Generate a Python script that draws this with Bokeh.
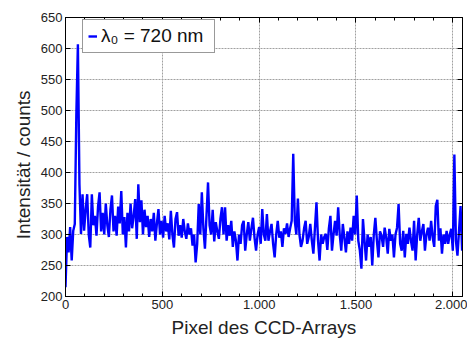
from bokeh.plotting import figure
from bokeh.models import Range1d, LinearAxis, Legend, LegendItem, FixedTicker
from bokeh.embed import file_html
from bokeh.resources import INLINE

# CCD pixel index (every 8th pixel) and measured intensity
pixels = list(range(0, 2049, 8))
counts = [
    215, 296, 271, 312, 258, 306, 317, 494, 607, 381, 301, 365, 306, 340, 365, 300, 279, 365, 315, 330, 298, 345, 368, 305, 335,
    300, 350, 315, 296, 340, 363, 305, 330, 298, 345, 318, 370, 300, 328, 279, 335, 305, 350, 310, 330, 357, 293, 381, 320, 355,
    300, 340, 312, 330, 296, 325, 305, 335, 290, 318, 341, 300, 322, 295, 330, 305, 318, 292, 338, 300, 279, 325, 336, 298, 315,
    295, 325, 305, 293, 318, 300, 310, 282, 300, 255, 285, 349, 300, 368, 310, 277, 330, 384, 315, 300, 340, 289, 320, 305, 293,
    325, 344, 300, 344, 290, 315, 298, 322, 280, 305, 290, 258, 300, 285, 315, 322, 274, 300, 320, 290, 310, 327, 295, 274, 300,
    312, 285, 341, 300, 290, 333, 290, 305, 317, 285, 263, 300, 322, 295, 305, 280, 310, 301, 318, 296, 310, 322, 430, 322, 300,
    358, 300, 280, 290, 310, 322, 285, 296, 317, 290, 269, 310, 352, 290, 258, 300, 285, 296, 301, 275, 310, 330, 274, 300, 322,
    298, 344, 300, 274, 317, 295, 271, 305, 285, 311, 290, 330, 300, 363, 290, 274, 245, 325, 290, 258, 300, 280, 296, 250, 300,
    327, 290, 263, 305, 298, 280, 311, 295, 269, 309, 290, 300, 263, 300, 311, 349, 285, 274, 306, 263, 301, 285, 311, 290, 274,
    322, 258, 300, 327, 290, 305, 317, 274, 300, 311, 290, 322, 295, 280, 346, 356, 290, 310, 269, 300, 285, 306, 285, 300, 309,
    274, 429, 290, 266, 306, 346, 274,
]

x_ticks = [0, 500, 1000, 1500, 2000]
x_tick_labels = ["0", "500", "1.000", "1.500", "2.000"]
y_ticks = [200, 250, 300, 350, 400, 450, 500, 550, 600, 650]

FONT = "Liberation Sans"

p = figure(width=467, height=342, output_backend="svg", toolbar_location=None,
           x_range=Range1d(0, 2050), y_range=Range1d(200, 650),
           min_border_left=65, min_border_right=5, min_border_top=17, min_border_bottom=46)
p.background_fill_color = "white"
p.border_fill_color = "white"
p.outline_line_color = "black"
p.outline_line_width = 1

r = p.line(pixels, counts, line_color="#0000ff", line_width=2.4)

# axes
xa = p.xaxis[0]
xa.ticker = FixedTicker(ticks=x_ticks, minor_ticks=list(range(0, 2100, 100)))
xa.major_label_overrides = {t: l for t, l in zip(x_ticks, x_tick_labels)}
ya = p.yaxis[0]
ya.ticker = FixedTicker(ticks=y_ticks)
for ax in (xa, ya):
    ax.major_tick_in = 5
    ax.major_tick_out = 0
    ax.minor_tick_in = 3
    ax.minor_tick_out = 0
    ax.axis_line_color = "black"
    ax.major_label_text_font = FONT
    ax.major_label_text_font_size = "13px"
    ax.major_label_text_color = "#222222"
    ax.axis_label_text_font = FONT
    ax.axis_label_text_font_size = "19px"
    ax.axis_label_text_font_style = "normal"
    ax.axis_label_text_color = "#222222"
    ax.major_label_standoff = 3
xa.axis_label = "Pixel des CCD-Arrays"
ya.axis_label = "Intensität / counts\u00a0\u00a0\u00a0"
xa.axis_label_standoff = 5
ya.axis_label_standoff = 4

top = LinearAxis(ticker=FixedTicker(ticks=x_ticks, minor_ticks=list(range(0, 2100, 100))),
                 major_label_overrides={t: "" for t in x_ticks},
                 major_tick_in=5, major_tick_out=0, minor_tick_in=3, minor_tick_out=0)
right = LinearAxis(ticker=FixedTicker(ticks=y_ticks),
                   major_label_overrides={t: "" for t in y_ticks},
                   major_tick_in=5, major_tick_out=0, minor_tick_in=0, minor_tick_out=0)
p.add_layout(top, "above")
p.add_layout(right, "right")

# grid
for g in (p.xgrid[0], p.ygrid[0]):
    g.grid_line_color = "#a0a0a0"
    g.grid_line_dash = "2 1"
    g.grid_line_width = 1
p.xgrid[0].ticker = FixedTicker(ticks=x_ticks)
p.ygrid[0].ticker = FixedTicker(ticks=y_ticks)

legend = Legend(items=[LegendItem(label="λ₀ = 720 nm", renderers=[r])],
                location=(17, 243), margin=0)
legend.border_line_color = "#333333"
legend.border_line_width = 1
legend.background_fill_alpha = 1
legend.label_text_font = FONT
legend.label_text_font_size = "19px"
legend.label_text_color = "#111111"
legend.glyph_width = 9
legend.glyph_height = 14
legend.padding = 5
legend.spacing = 0
legend.label_standoff = 4
legend.label_height = 17
legend.label_width = 108
p.add_layout(legend, "center")

open("out.html", "w").write(file_html(p, INLINE))
